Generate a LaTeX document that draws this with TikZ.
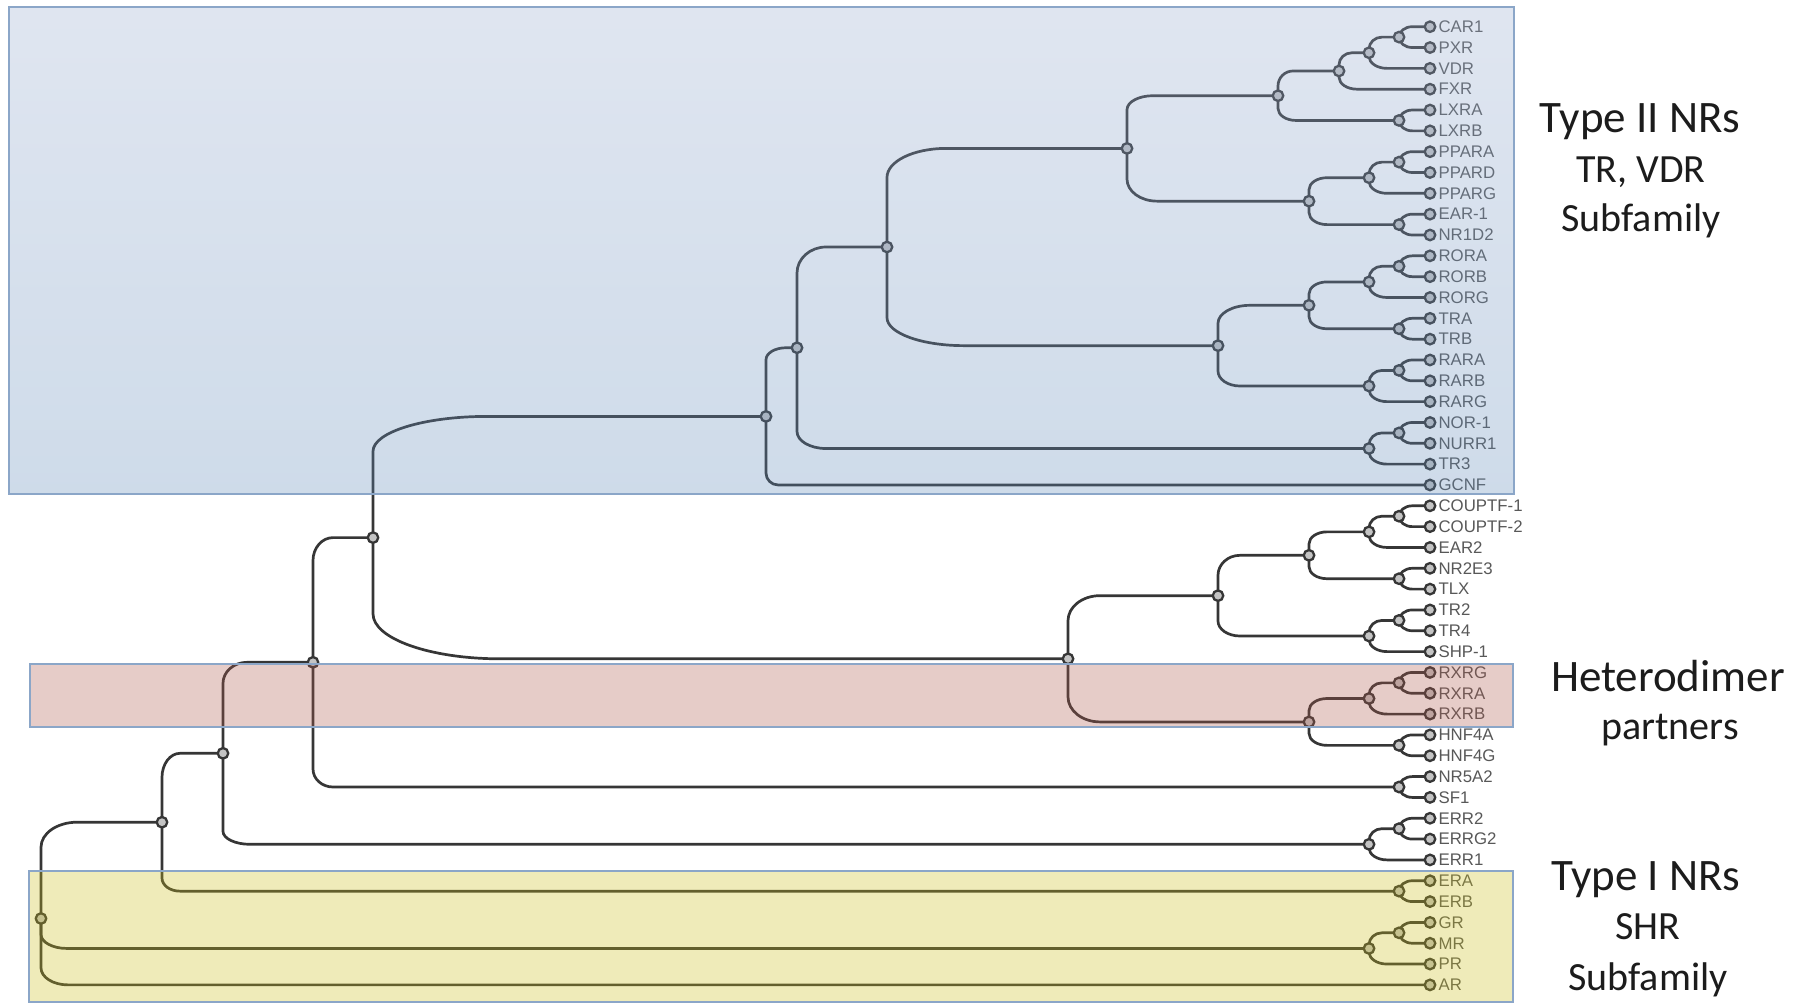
\documentclass[tikz,border=0pt]{standalone}
\usepackage{fontspec}
\setmainfont{Liberation Sans}
\newfontfamily\titlefont{Carlito}
\usetikzlibrary{calc}
\pgfdeclarelayer{back}
\pgfdeclarelayer{lines}
\pgfsetlayers{back,lines,main}
\definecolor{branchc}{HTML}{363636}
\definecolor{dotfill}{HTML}{C4C4C4}
\definecolor{lblc}{HTML}{585858}
\definecolor{ttlc}{HTML}{1C1C1C}
\definecolor{boxedge}{HTML}{8BA6C8}
\definecolor{bluetop}{RGB}{152,172,208}
\definecolor{bluebot}{RGB}{95,138,185}
\definecolor{pinkov}{RGB}{175,88,75}
\definecolor{yellowov}{RGB}{205,192,25}
% automatic rounded branch from parent #1 to child #2
\newcommand\br[2]{%
  \draw[branch] let \p1=(#1.center), \p2=(#2.center),
    \n1={abs(\y2-\y1)},
    \n2={min(max(0.45*\n1,min(\n1,12)),30)},
    \n3={min(0.3*(\x2-\x1)+4,1.5*\n2)},
    \n4={sign(\y2-\y1)} in
    (\p1) -- (\x1,{\y2-\n4*\n2})
    .. controls (\x1,{\y2-\n4*0.448*\n2}) and ({\x1+0.448*\n3},\y2) ..
    ({\x1+\n3},\y2) -- (\p2);}
% branch with explicit corner sizes rx=#3, ry=#4
\newcommand\brr[4]{%
  \draw[branch] let \p1=(#1.center), \p2=(#2.center),
    \n4={sign(\y2-\y1)} in
    (\p1) -- (\x1,{\y2-\n4*#4})
    .. controls (\x1,{\y2-\n4*0.448*#4}) and ({\x1+0.448*#3},\y2) ..
    ({\x1+#3},\y2) -- (\p2);}
\begin{document}
\begin{tikzpicture}[x=1pt,y=1pt,
  branch/.style={draw=branchc, line width=2.7pt, line cap=round, line join=round},
  dot/.style={circle, draw=branchc, fill=dotfill, line width=2.3pt, minimum size=10.5pt, inner sep=0pt},
  lbl/.style={anchor=west, inner sep=1pt, text=lblc, font=\fontsize{16.8}{18}\selectfont},
  ttlA/.style={anchor=base, inner sep=0pt, text=ttlc, font=\titlefont\fontsize{45}{50}\selectfont},
  ttlB/.style={anchor=base, inner sep=0pt, text=ttlc, font=\titlefont\fontsize{40}{46}\selectfont},
  boxline/.style={draw=boxedge, line width=2pt}]

\begin{pgfonlayer}{back}
  \fill[white] (0,0) rectangle (1808,-1005);
\end{pgfonlayer}
\useasboundingbox (0,0) rectangle (1808,-1005);

% leaves
\foreach \nm [count=\i from 0] in {CAR1,PXR,VDR,FXR,LXRA,LXRB,PPARA,PPARD,PPARG,EAR-1,NR1D2,RORA,RORB,RORG,TRA,TRB,RARA,RARB,RARG,NOR-1,NURR1,TR3,GCNF,COUPTF-1,COUPTF-2,EAR2,NR2E3,TLX,TR2,TR4,SHP-1,RXRG,RXRA,RXRB,HNF4A,HNF4G,NR5A2,SF1,ERR2,ERRG2,ERR1,ERA,ERB,GR,MR,PR,AR}{
  \node[dot] (l\i) at (1430,{-(26.7+20.83*\i)}) {};
  \node[lbl] (t\i) at ([xshift=1pt]l\i.east) {\nm};
}

% internal nodes, Type II clade
\node[dot] (A) at (1399,-37.1) {};
\node[dot] (B) at (1369,-52.75) {};
\node[dot] (C) at (1339,-70.98) {};
\node[dot] (D) at (1399,-120.45) {};
\node[dot] (E) at (1278,-95.7) {};
\node[dot] (F) at (1399,-162.1) {};
\node[dot] (G) at (1369,-177.7) {};
\node[dot] (H) at (1399,-224.6) {};
\node[dot] (I) at (1309,-201.15) {};
\node[dot] (J) at (1127,-148.4) {};
\node[dot] (K) at (1399,-266.25) {};
\node[dot] (L) at (1369,-281.9) {};
\node[dot] (M) at (1399,-328.75) {};
\node[dot] (N) at (1309,-305.3) {};
\node[dot] (O) at (1399,-370.4) {};
\node[dot] (P) at (1369,-386.0) {};
\node[dot] (Q) at (1218,-345.65) {};
\node[dot] (R) at (887,-247.0) {};
\node[dot] (S) at (1399,-432.9) {};
\node[dot] (T) at (1369,-448.5) {};
\node[dot] (U) at (797,-347.75) {};
\node[dot] (V) at (766,-416.4) {};
% other internal nodes
\node[dot] (ax) at (1399,-516.2) {};
\node[dot] (bx) at (1369,-531.85) {};
\node[dot] (cx) at (1399,-578.7) {};
\node[dot] (dx) at (1309,-555.3) {};
\node[dot] (ex) at (1399,-620.4) {};
\node[dot] (fx) at (1369,-636.0) {};
\node[dot] (gx) at (1218,-595.65) {};
\node[dot] (hx) at (1399,-682.85) {};
\node[dot] (ix) at (1369,-698.5) {};
\node[dot] (jx) at (1399,-745.35) {};
\node[dot] (kx) at (1309,-721.9) {};
\node[dot] (lx) at (1068,-658.8) {};
\node[dot] (mx) at (373,-537.6) {};
\node[dot] (nx) at (1399,-787.0) {};
\node[dot] (ox) at (313,-662.3) {};
\node[dot] (px) at (1399,-828.65) {};
\node[dot] (qx) at (1369,-844.3) {};
\node[dot] (rx) at (223,-753.3) {};
\node[dot] (sx) at (1399,-891.15) {};
\node[dot] (tx) at (162,-822.2) {};
\node[dot] (ux) at (1399,-932.8) {};
\node[dot] (vx) at (1369,-948.45) {};
\node[dot] (root) at (41,-918.5) {};

\begin{pgfonlayer}{lines}
\br{A}{l0} \br{A}{l1}
\br{B}{A} \br{B}{l2}
\br{C}{B} \br{C}{l3}
\br{D}{l4} \br{D}{l5}
\brr{E}{C}{15}{15} \br{E}{D}
\br{F}{l6} \br{F}{l7}
\br{G}{F} \br{G}{l8}
\br{H}{l9} \br{H}{l10}
\br{I}{G} \br{I}{H}
\brr{J}{E}{26}{14} \brr{J}{I}{30}{22}
\br{K}{l11} \br{K}{l12}
\br{L}{K} \br{L}{l13}
\br{M}{l14} \br{M}{l15}
\br{N}{L} \br{N}{M}
\br{O}{l16} \br{O}{l17}
\br{P}{O} \br{P}{l18}
\brr{Q}{N}{32}{18} \brr{Q}{P}{22}{15}
\brr{R}{J}{59}{29} \brr{R}{Q}{77}{28}
\br{S}{l19} \br{S}{l20}
\br{T}{S} \br{T}{l21}
\brr{U}{R}{29}{26} \brr{U}{T}{29}{17}
\brr{V}{U}{20}{12} \brr{V}{l22}{12}{12}
\br{ax}{l23} \br{ax}{l24}
\br{bx}{ax} \br{bx}{l25}
\br{cx}{l26} \br{cx}{l27}
\br{dx}{bx} \br{dx}{cx}
\br{ex}{l28} \br{ex}{l29}
\br{fx}{ex} \br{fx}{l30}
\brr{gx}{dx}{22}{20} \brr{gx}{fx}{22}{15}
\br{hx}{l31} \br{hx}{l32}
\br{ix}{hx} \br{ix}{l33}
\br{jx}{l34} \br{jx}{l35}
\br{kx}{ix} \br{kx}{jx}
\brr{lx}{gx}{32}{25} \brr{lx}{kx}{32}{25}
\brr{mx}{V}{114}{35} \brr{mx}{lx}{127}{45}
\br{nx}{l36} \br{nx}{l37}
\brr{ox}{mx}{20}{23} \brr{ox}{nx}{20}{18}
\br{px}{l38} \br{px}{l39}
\br{qx}{px} \br{qx}{l40}
\brr{rx}{ox}{24}{21} \brr{rx}{qx}{27}{13}
\br{sx}{l41} \br{sx}{l42}
\brr{tx}{rx}{18}{24} \brr{tx}{sx}{18}{13}
\br{ux}{l43} \br{ux}{l44}
\br{vx}{ux} \br{vx}{l45}
\brr{root}{tx}{36}{25} \brr{root}{vx}{26}{14} \brr{root}{l46}{27}{17}
\end{pgfonlayer}

% translucent group boxes
\shade[top color=bluetop, bottom color=bluebot, opacity=0.3] (9,-7) rectangle (1514,-494);
\fill[pinkov, opacity=0.3] (30,-664) rectangle (1513,-727);
\fill[yellowov, opacity=0.3] (29,-871) rectangle (1513,-1002);
\draw[boxline] (9,-7) rectangle (1514,-494);
\draw[boxline] (30,-664) rectangle (1513,-727);
\draw[boxline] (29,-871) rectangle (1513,-1002);

% group titles
\node[ttlA] (g1a) at (1640,-132) {Type II NRs};
\node[ttlB] (g1b) at (1641,-182) {TR, VDR};
\node[ttlB] (g1c) at (1641,-231) {Subfamily};
\node[ttlA] (g2a) at (1668,-691) {Heterodimer};
\node[ttlB] (g2b) at (1670,-739) {partners};
\node[ttlA] (g3a) at (1646,-890) {Type I NRs};
\node[ttlB] (g3b) at (1648,-939) {SHR};
\node[ttlB] (g3c) at (1648,-990) {Subfamily};
\end{tikzpicture}
\end{document}
